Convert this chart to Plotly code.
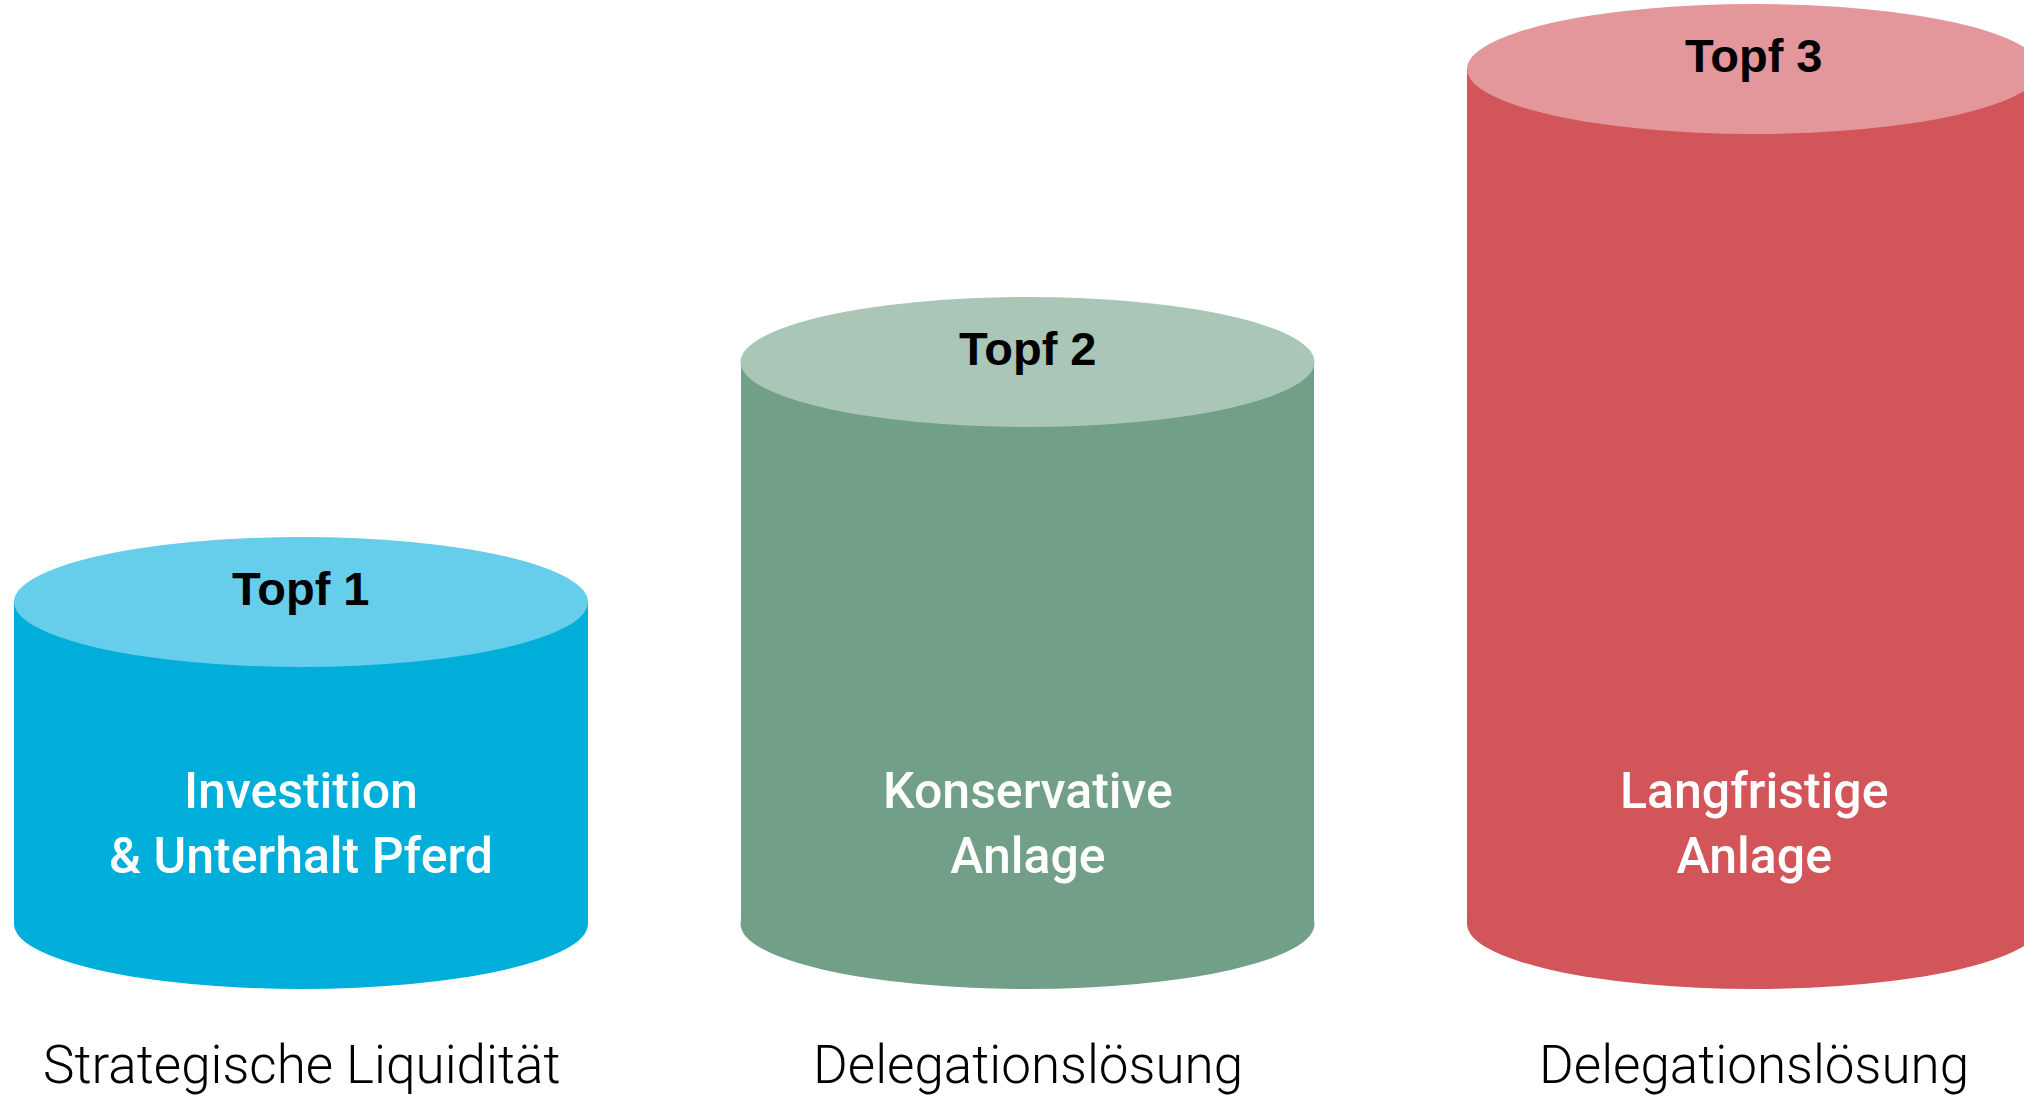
import plotly.graph_objects as go

# Daten: drei Töpfe mit unterschiedlicher Füllhöhe
pots = ["Topf 1", "Topf 2", "Topf 3"]
heights = [3.22, 5.62, 8.55]
inner_labels = [
    "Investition<br>& Unterhalt Pferd",
    "Konservative<br>Anlage",
    "Langfristige<br>Anlage",
]
bottom_labels = ["Strategische Liquidität", "Delegationslösung", "Delegationslösung"]

body_colors = ["#00AEDA", "#729F87", "#D2555A"]
top_colors = ["#66CDEA", "#A9C6B7", "#E3979A"]

BAR_W = 0.79      # cylinder width in x units
RY = 0.65         # half height of the ellipses in y units
INNER_Y = 1.01
BOTTOM_Y = -1.41

x_pos = list(range(len(pots)))

fig = go.Figure()

fig.add_trace(go.Bar(
    x=x_pos,
    y=heights,
    width=BAR_W,
    marker=dict(color=body_colors, line=dict(width=0)),
    hoverinfo="skip",
    showlegend=False
))

for i, h in enumerate(heights):
    # Boden des Zylinders
    fig.add_shape(
        type="circle", xref="x", yref="y",
        x0=i - BAR_W / 2, x1=i + BAR_W / 2, y0=-RY, y1=RY,
        fillcolor=body_colors[i], line=dict(width=0), layer="above"
    )
    # Deckel
    fig.add_shape(
        type="circle", xref="x", yref="y",
        x0=i - BAR_W / 2, x1=i + BAR_W / 2, y0=h - RY, y1=h + RY,
        fillcolor=top_colors[i], line=dict(width=0), layer="above"
    )

    fig.add_annotation(
        x=i, y=h, text=f"<b>{pots[i]}</b>", showarrow=False, yshift=14,
        font=dict(family="Liberation Sans, Arial", size=47, color="black")
    )

    fig.add_annotation(
        x=i, y=INNER_Y, text=inner_labels[i], showarrow=False,
        font=dict(family="Roboto", size=50, color="white", weight=500)
    )

    fig.add_annotation(
        x=i, y=BOTTOM_Y, text=bottom_labels[i], showarrow=False,
        font=dict(family="Roboto", size=53, color="black", weight=300)
    )

fig.update_layout(
    width=2024,
    height=1096,
    margin=dict(l=0, r=0, t=0, b=0),
    paper_bgcolor="white",
    plot_bgcolor="white",
    bargap=0,
    xaxis=dict(range=[-0.4143, 2.3716], visible=False, fixedrange=True),
    yaxis=dict(range=[-1.72, 9.24], visible=False, fixedrange=True),
    showlegend=False
)

# Seitenrand des Browsers entfernen, damit die Grafik bündig sitzt
fig.write_html(
    "out.html",
    config={"displayModeBar": False},
    post_script="document.body.style.margin='0';document.body.style.overflow='hidden';"
)
